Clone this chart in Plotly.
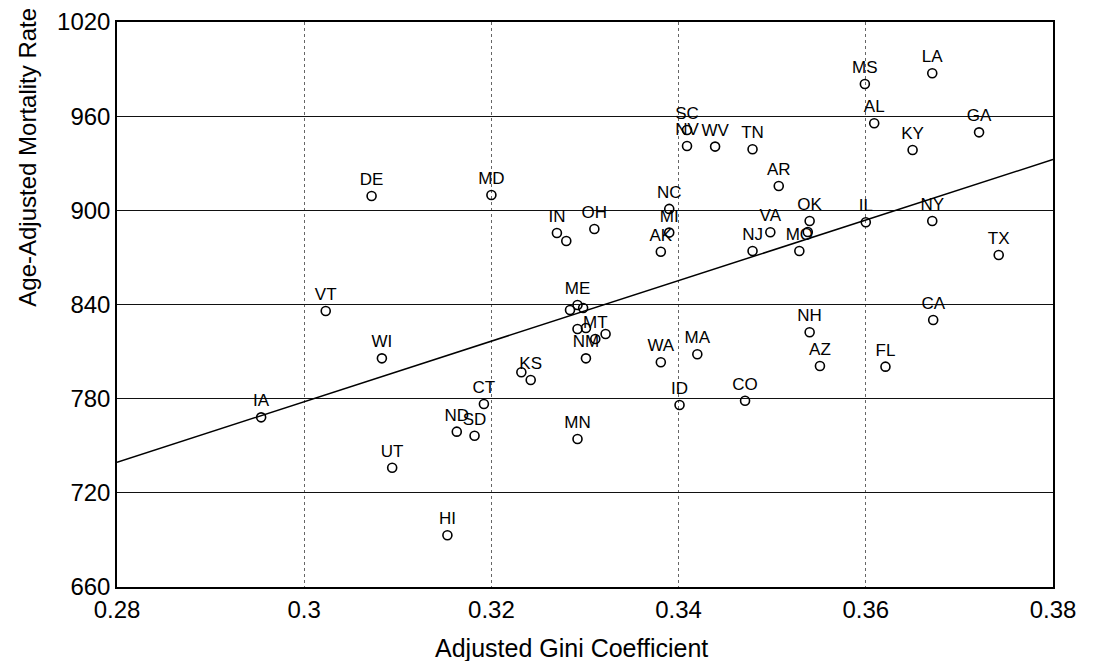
import plotly.graph_objects as go

# State-level data: adjusted Gini coefficient vs age-adjusted mortality rate
states = ["AL", "AK", "AZ", "AR", "CA", "CO", "CT", "DE", "FL", "GA",
          "HI", "ID", "IL", "IN", "IA", "KS", "KY", "LA", "ME", "MD",
          "MA", "MI", "MN", "MS", "MO", "MT", "NV", "NH", "NJ", "NM",
          "NY", "NC", "ND", "OH", "OK", "SC", "SD", "TN", "TX", "UT",
          "VT", "VA", "WA", "WV", "WI",
          "", "", "", "", "", "", "", ""]
gini = [0.3609, 0.3381, 0.3551, 0.3507, 0.3672, 0.3471, 0.3192, 0.3072, 0.3621, 0.3721,
        0.3153, 0.3401, 0.3600, 0.3270, 0.2954, 0.3242, 0.3650, 0.3671, 0.3292, 0.3200,
        0.3420, 0.3390, 0.3292, 0.3599, 0.3529, 0.3311, 0.3409, 0.3540, 0.3479, 0.3301,
        0.3671, 0.3390, 0.3163, 0.3310, 0.3540, 0.3409, 0.3182, 0.3479, 0.3742, 0.3094,
        0.3023, 0.3498, 0.3381, 0.3439, 0.3083,
        0.3280, 0.3538, 0.3232, 0.3284, 0.3298, 0.3292, 0.3301, 0.3322]
mortality = [955.5, 873.6, 800.8, 915.5, 830.1, 778.7, 776.6, 909.1, 800.4, 949.7,
             693.0, 776.0, 892.4, 885.6, 768.1, 791.9, 938.4, 987.3, 839.7, 909.8,
             808.3, 885.8, 754.3, 980.5, 874.1, 818.0, 941.0, 822.3, 874.1, 805.7,
             893.2, 900.9, 759.0, 888.1, 893.2, 951.2, 756.4, 938.9, 871.5, 736.0,
             835.9, 886.0, 803.2, 940.6, 805.7,
             880.5, 886.2, 796.8, 836.5, 837.8, 824.4, 825.0, 821.2]

# Fitted regression line (mortality = intercept + slope * (gini - x_min))
fit_intercept = 739.5
fit_slope = 1929.0

x_range = [0.28, 0.38]
y_range = [660, 1020]
x_ticks = [0.28, 0.30, 0.32, 0.34, 0.36, 0.38]
x_tick_text = ["0.28", "0.3", "0.32", "0.34", "0.36", "0.38"]
y_ticks = [660, 720, 780, 840, 900, 960, 1020]

x_title = "Adjusted Gini Coefficient"
y_title = "Age-Adjusted Mortality Rate"

font_family = "Liberation Sans, Arial, sans-serif"

fit_x = x_range
fit_y = [fit_intercept + fit_slope * (x - x_range[0]) for x in fit_x]

fig = go.Figure()

fig.add_trace(go.Scatter(
    x=fit_x, y=fit_y, mode="lines",
    line=dict(color="black", width=1.5),
    hoverinfo="skip", showlegend=False,
))

fig.add_trace(go.Scatter(
    x=gini, y=mortality, mode="markers+text",
    text=states, textposition="top center",
    textfont=dict(family=font_family, size=17, color="black"),
    marker=dict(symbol="circle-open", size=9, color="black",
                line=dict(width=1.6, color="black")),
    showlegend=False,
))

fig.update_layout(
    width=1094, height=661,
    margin=dict(l=117, r=41, t=22, b=74),
    paper_bgcolor="white", plot_bgcolor="white",
    font=dict(family=font_family, color="black"),
)

fig.update_xaxes(
    range=x_range, tickvals=x_ticks, ticktext=x_tick_text,
    tickfont=dict(size=24), ticks="", automargin=False,
    showgrid=True, gridcolor="#666666", gridwidth=1, griddash="dot",
    showline=True, linecolor="black", linewidth=1.5, mirror=True,
    zeroline=False,
)

fig.update_yaxes(
    range=y_range, tickvals=y_ticks,
    tickfont=dict(size=24), ticks="", automargin=False,
    showgrid=True, gridcolor="#111111", gridwidth=1.3,
    showline=True, linecolor="black", linewidth=1.5, mirror=True,
    zeroline=False,
)

# Axis titles placed as free text in the margins
fig.add_annotation(
    text=x_title,
    xref="paper", yref="paper", x=0.486, y=-0.108,
    xanchor="center", yanchor="middle", showarrow=False,
    font=dict(size=25, color="black"),
)
fig.add_annotation(
    text=y_title, textangle=-90,
    xref="paper", yref="paper", x=-0.095, y=0.76,
    xanchor="center", yanchor="middle", showarrow=False,
    font=dict(size=24, color="black"),
)

fig.write_html("out.html")
